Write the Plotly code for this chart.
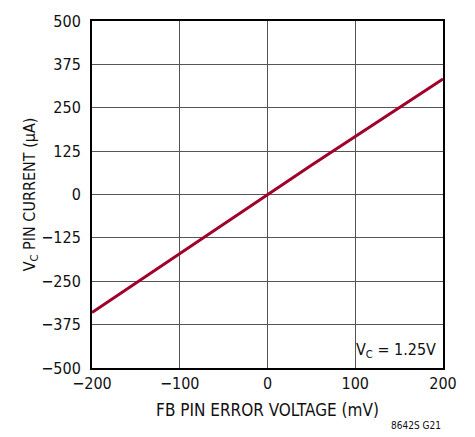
import plotly.graph_objects as go

x_mv = [-200, -150, -100, -50, 0, 25, 50, 100, 150, 200]
i_ua = [-340, -255, -168, -83, 0, 42, 84, 166, 250, 333]
x_ticks = [-200, -100, 0, 100, 200]
y_ticks = [-500, -375, -250, -125, 0, 125, 250, 375, 500]

FONT = "DejaVu Sans Condensed, Liberation Sans Narrow, Arial Narrow, sans-serif"

fig = go.Figure()
fig.add_trace(go.Scatter(x=x_mv, y=i_ua, mode="lines",
                         line=dict(color="#a0002a", width=3), showlegend=False))

fig.update_layout(
    width=475, height=437,
    margin=dict(l=92, r=32, t=16, b=69),
    paper_bgcolor="white", plot_bgcolor="white",
    font=dict(family=FONT, size=16, color="#111"),
    xaxis=dict(range=[-200, 200], tickvals=x_ticks, showgrid=True,
               gridcolor="#555", gridwidth=1, zeroline=False,
               showline=True, linecolor="black", linewidth=2, mirror=True,
               ticks="", title=dict(text="FB PIN ERROR VOLTAGE (mV)", standoff=12,
                                    font=dict(size=17))),
    yaxis=dict(range=[-500, 500], tickvals=y_ticks, showgrid=True,
               gridcolor="#555", gridwidth=1, zeroline=False,
               showline=True, linecolor="black", linewidth=2, mirror=True,
               ticks="", ticklabelstandoff=6,
               title=dict(text="V<sub>C</sub> PIN CURRENT (µA)", standoff=1,
                          font=dict(size=16))),
    annotations=[
        dict(text="V<sub>C</sub> = 1.25V", xref="paper", yref="paper",
             x=0.985, y=0.015, xanchor="right", yanchor="bottom",
             showarrow=False, font=dict(size=16)),
        dict(text="8642S G21", xref="paper", yref="paper",
             x=1.0, y=-0.145, xanchor="right", yanchor="top",
             showarrow=False, font=dict(size=10)),
    ],
)

fig.write_html("out.html")
